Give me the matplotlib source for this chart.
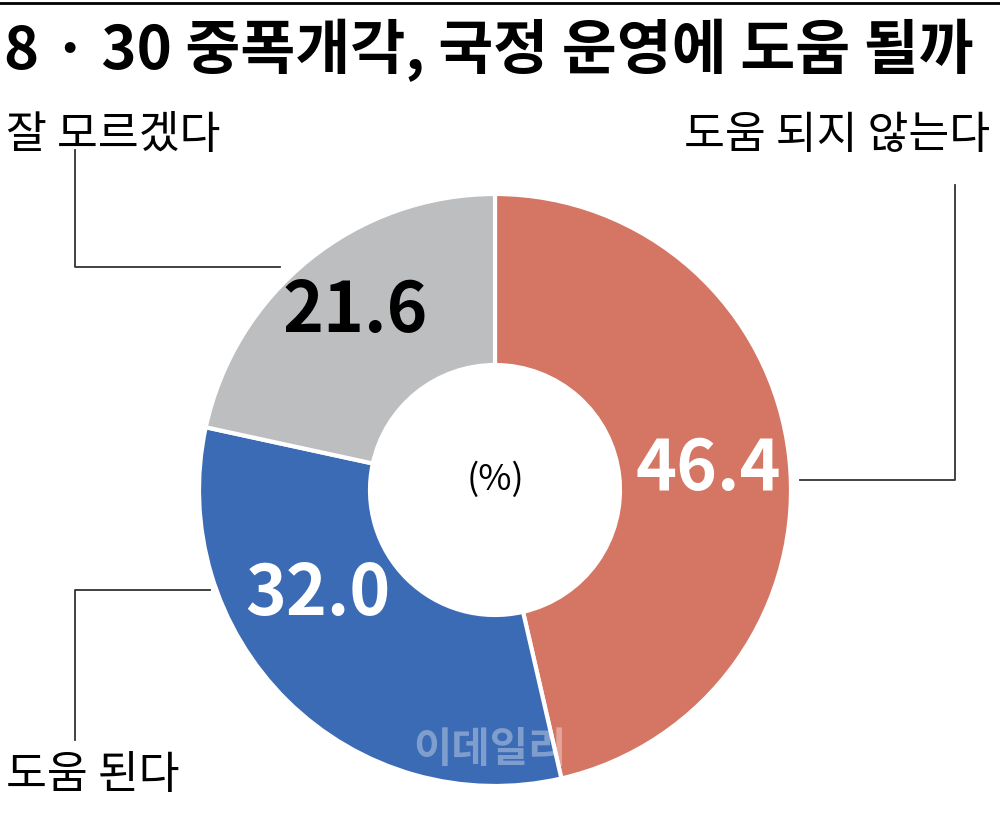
import matplotlib
matplotlib.use("Agg")
import matplotlib.pyplot as plt
import matplotlib.patches as mp

categories = ["도움 되지 않는다", "도움 된다", "잘 모르겠다"]
values = [46.4, 32.0, 21.6]
colors = ["#D57563", "#3B6BB4", "#BDBEC0"]
title = "8 · 30 중폭개각, 국정 운영에 도움 될까"

plt.rcParams['font.family'] = ['Noto Sans CJK KR', 'DejaVu Sans']
fig = plt.figure(figsize=(10, 8.15), dpi=100)
ax = fig.add_axes([0, 0, 1, 1])
ax.set_xlim(0, 1000); ax.set_ylim(815, 0); ax.set_aspect('equal'); ax.axis('off')

cx, cy, R, r = 495, 490, 296, 125
start = 90.0
for v, c in zip(values, colors):
    ang = v / 100 * 360
    w = mp.Wedge((cx, cy), R, -start, -start + ang, width=R - r,
                 facecolor=c, edgecolor='white', linewidth=3)
    ax.add_patch(w)
    start -= ang

ax.plot([0, 1000], [3, 3], color='black', lw=2)
ax.text(4, 50, title, fontsize=43, fontweight='semibold', va='center', ha='left')

ax.text(708, 470, "46.4", fontsize=50, fontweight='bold', color='white', ha='center', va='center')
ax.text(318, 595, "32.0", fontsize=50, fontweight='bold', color='white', ha='center', va='center')
ax.text(355, 312, "21.6", fontsize=50, fontweight='bold', color='black', ha='center', va='center')
ax.text(495, 480, "(%)", fontsize=26, ha='center', va='center')

lc = dict(color='#333333', lw=1.3)
ax.plot([280, 75, 75], [267, 267, 150], **lc)
ax.plot([800, 955, 955], [480, 480, 185], **lc)
ax.plot([210, 75, 75], [590, 590, 740], **lc)
ax.text(6, 135, categories[2], fontsize=32, ha='left', va='center')
ax.text(990, 135, categories[0], fontsize=32, ha='right', va='center')
ax.text(6, 775, categories[1], fontsize=32, ha='left', va='center')
ax.text(490, 750, "이데일리", fontsize=30, fontweight='bold', color='white', alpha=0.35, ha='center', va='center')
fig.savefig("out.png", dpi=100)
